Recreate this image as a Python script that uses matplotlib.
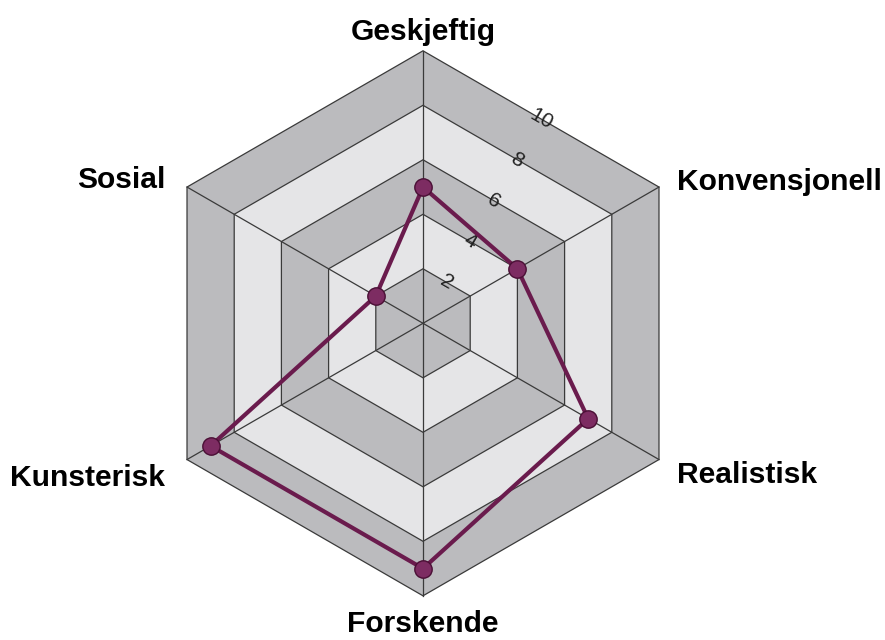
import numpy as np
import matplotlib
matplotlib.use("Agg")
import matplotlib.pyplot as plt

categories = ['Geskjeftig', 'Konvensjonell', 'Realistisk', 'Forskende', 'Kunsterisk', 'Sosial']
values = [5, 4, 7, 9, 9, 2]
ring_levels = [2, 4, 6, 8, 10]
tick_labels = ['2', '4', '6', '8', '10']

dark = '#bbbbbe'
light = '#e5e5e7'
grid_col = '#3a3a3a'
line_col = '#6a1b4d'

# axis angles, clockwise from the top
n = len(categories)
angles = np.deg2rad(90 - np.arange(n) * 360.0 / n)

fig = plt.figure(figsize=(8.85, 6.4), dpi=100)
ax = fig.add_axes([0, 0, 1, 1])
px = 27.25  # pixels per unit
cx, cy = 423, 323.3
ax.set_xlim(-cx / px, (885 - cx) / px)
ax.set_ylim(-(640 - cy) / px, cy / px)
ax.axis('off')


def hexagon(r):
    xs = r * np.cos(angles)
    ys = r * np.sin(angles)
    return np.append(xs, xs[0]), np.append(ys, ys[0])


# shaded bands, drawn from the outside in
for i, lev in reversed(list(enumerate(ring_levels))):
    xs, ys = hexagon(lev)
    col = dark if i % 2 == 0 else light
    ax.fill(xs, ys, facecolor=col, edgecolor=grid_col, linewidth=0.9, zorder=1)

# spokes
rmax = ring_levels[-1]
for a in angles:
    ax.plot([0, rmax * np.cos(a)], [0, rmax * np.sin(a)], color=grid_col, lw=0.9, zorder=2)

# ring labels along the edge between the first two axes
mid = (angles[0] + angles[1]) / 2
for lev, lab in zip(ring_levels, tick_labels):
    r = lev * np.cos(np.pi / n)
    ax.text(r * np.cos(mid), r * np.sin(mid), lab, rotation=-30, fontsize=15,
            ha='center', va='center', color='#222222', zorder=3,
            family='Liberation Sans', rotation_mode='anchor')

# data
vx = np.array(values) * np.cos(angles)
vy = np.array(values) * np.sin(angles)
ax.plot(np.append(vx, vx[0]), np.append(vy, vy[0]), color=line_col, lw=3, zorder=4,
        solid_joinstyle='round')
ax.plot(vx, vy, 'o', ms=12.5, markerfacecolor='#7d2c62', markeredgecolor='#4a0f35',
        markeredgewidth=1, zorder=5)

# category labels
lab_r = [10.7, 10.76, 10.76, 11.05, 10.93, 10.93]
for a, name, r in zip(angles, categories, lab_r):
    c = np.cos(a)
    dy = 0
    if abs(c) < 0.1:
        ha = 'center'
    else:
        ha = 'left' if c > 0 else 'right'
        dy = -5.5 / px
    ax.text(r * np.cos(a), r * np.sin(a) + dy, name, ha=ha, va='center', fontsize=21.6,
            fontweight='bold', family='Liberation Sans', zorder=6)

fig.savefig('out.png', dpi=100)
